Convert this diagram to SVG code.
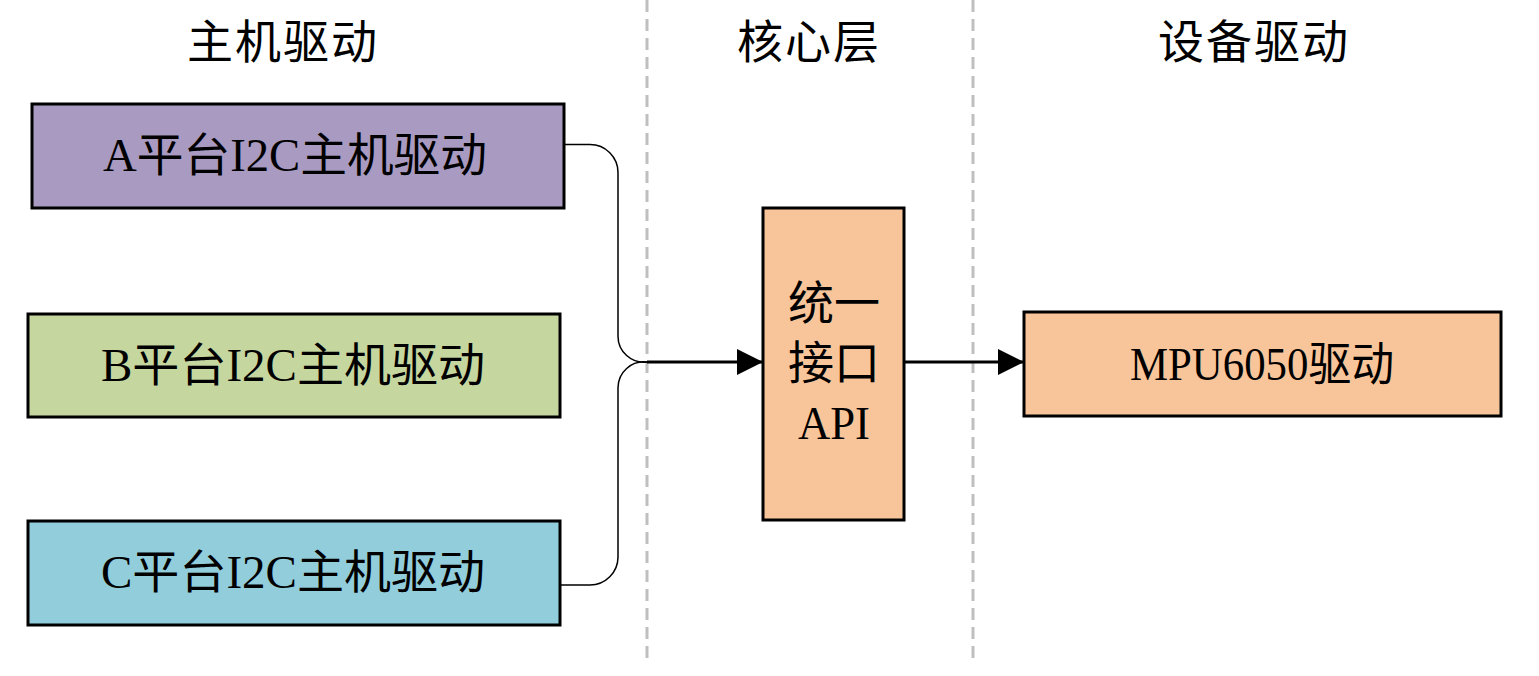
<svg xmlns="http://www.w3.org/2000/svg" width="1539" height="676" viewBox="0 0 1539 676">
<style>
.t{font-family:"Liberation Serif","Noto Sans CJK SC",serif;font-size:46px;fill:#000;text-anchor:middle;dominant-baseline:central}
.box{stroke:#000;stroke-width:3}
.thin{fill:none;stroke:#000;stroke-width:1.5}
.thick{fill:none;stroke:#000;stroke-width:3}
.sep{stroke:#bfbfbf;stroke-width:3;stroke-dasharray:12 7}
</style>
<defs>
<marker id="arr" markerUnits="userSpaceOnUse" markerWidth="28" markerHeight="28" refX="26" refY="13" orient="auto">
<path d="M0,0 L26,13 L0,26 Z" fill="#000"/>
</marker>
</defs>
<rect width="1539" height="676" fill="#fff"/>
<g id="separators">
<line class="sep" x1="647" y1="0" x2="647" y2="662"/>
<line class="sep" x1="973" y1="0" x2="973" y2="662"/>
</g>
<g id="headers">
<text class="t" x="282" y="42" textLength="190" lengthAdjust="spacing">主机驱动</text>
<text class="t" x="808" y="42" textLength="142" lengthAdjust="spacing">核心层</text>
<text class="t" x="1253" y="42" textLength="190" lengthAdjust="spacing">设备驱动</text>
</g>
<g id="connectors">
<path class="thin" d="M564,144.5 H590 A28,28 0 0 1 618,172.5 V336 A26,26 0 0 0 647,362"/>
<path class="thin" d="M560,585 H590 A28,28 0 0 0 618,557 V388 A26,26 0 0 1 647,362"/>
<line class="thick" x1="647" y1="362" x2="763" y2="362" marker-end="url(#arr)"/>
<line class="thick" x1="904" y1="362" x2="1024" y2="362" marker-end="url(#arr)"/>
</g>
<g id="nodeA">
<rect class="box" x="32" y="104" width="532" height="104" fill="#a89ac0"/>
<text class="t" x="295" y="155" textLength="384" lengthAdjust="spacingAndGlyphs">A平台I2C主机驱动</text>
</g>
<g id="nodeB">
<rect class="box" x="28" y="314" width="532" height="103" fill="#c6d69f"/>
<text class="t" x="293" y="365" textLength="384" lengthAdjust="spacingAndGlyphs">B平台I2C主机驱动</text>
</g>
<g id="nodeC">
<rect class="box" x="28" y="521" width="532" height="104" fill="#92cddc"/>
<text class="t" x="293" y="572" textLength="384" lengthAdjust="spacingAndGlyphs">C平台I2C主机驱动</text>
</g>
<g id="nodeCore">
<rect class="box" x="763" y="208" width="141" height="312" fill="#f8c59a"/>
<text class="t" x="834" y="303">统一</text>
<text class="t" x="834" y="363">接口</text>
<text class="t" x="834" y="423" textLength="72" lengthAdjust="spacingAndGlyphs">API</text>
</g>
<g id="nodeMPU">
<rect class="box" x="1024" y="312" width="477" height="104" fill="#f8c59a"/>
<text class="t" x="1262" y="364" textLength="264" lengthAdjust="spacingAndGlyphs">MPU6050驱动</text>
</g>
</svg>
